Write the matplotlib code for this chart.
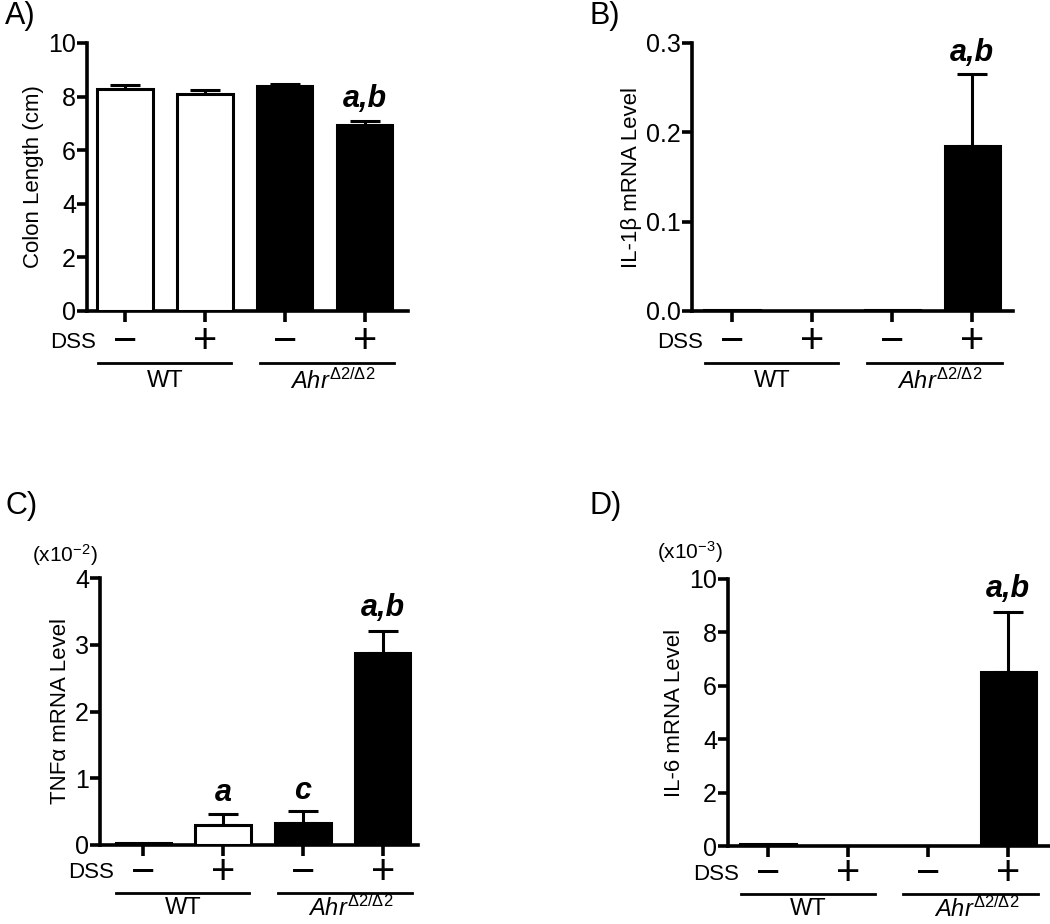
import numpy as np
import matplotlib.pyplot as plt

plt.rcParams['font.family'] = ['Liberation Sans', 'DejaVu Sans']
plt.rcParams['mathtext.fontset'] = 'custom'
plt.rcParams['mathtext.rm'] = 'Liberation Sans'
plt.rcParams['mathtext.it'] = 'Liberation Sans:italic'
plt.rcParams['mathtext.bf'] = 'Liberation Sans:bold'

dss = ['\u2212', '+', '\u2212', '+']
groups = ['WT', r'$\mathit{Ahr}^{\mathit{Δ2/Δ2}}$']
colors = ['white', 'white', 'black', 'black']

colon_len = [8.28, 8.10, 8.38, 6.93]
colon_err = [0.17, 0.15, 0.10, 0.16]
il1b = [0.0008, 0.0003, 0.0008, 0.185]
il1b_err = [0.0, 0.0, 0.0, 0.080]
tnfa = [0.03, 0.30, 0.33, 2.87]
tnfa_err = [0.0, 0.16, 0.18, 0.34]
il6 = [0.08, 0.0, 0.0, 6.52]
il6_err = [0.0, 0.0, 0.0, 2.24]

fig = plt.figure(figsize=(10.5, 9.24), dpi=100)
W, H = 1050, 924


def make_ax(left, right, top, bottom):
    return fig.add_axes([left / W, 1 - bottom / H, (right - left) / W, (bottom - top) / H])


def panel(ax, vals, errs, ylim, yticks, yticklabels, ylabel, notes, xl, xr, offs):
    x = np.arange(4)
    ax.bar(x, vals, width=0.69, color=colors, edgecolor='black', linewidth=2.2, zorder=3)
    for xi, v, e in zip(x, vals, errs):
        if e > 0:
            ax.errorbar(xi, v, yerr=[[0], [e]], fmt='none', ecolor='black',
                        elinewidth=2.2, capsize=11, capthick=2.2, zorder=2)
    ax.set_xlim(xl, xr)
    ax.set_ylim(*ylim)
    ax.set_yticks(yticks)
    ax.set_yticklabels(yticklabels)
    ax.set_xticks(x)
    ax.set_xticklabels([])
    for s in ['top', 'right']:
        ax.spines[s].set_visible(False)
    for s in ['left', 'bottom']:
        ax.spines[s].set_linewidth(2.6)
    ax.tick_params(axis='y', length=7, width=2.6, labelsize=18, pad=1)
    ax.tick_params(axis='x', length=8, width=2.6)
    ax.set_ylabel(ylabel, fontsize=16, labelpad=3)
    for xi, txt, yv in notes:
        ax.text(xi, yv, txt, ha='center', va='bottom', fontsize=22,
                fontweight='bold', fontstyle='italic')
    # offsets below the x axis, in pixels
    hpx = ax.get_position().height * H
    y_dss, y_line, y_grp = [-o / hpx for o in offs]
    tr = ax.get_xaxis_transform()
    ax.text(-0.36, y_dss, 'DSS', transform=tr, ha='right', va='center', fontsize=16)
    for xi, s in zip(x, dss):
        ax.text(xi, y_dss, s, transform=tr, ha='center', va='center', fontsize=30)
    ax.plot([-0.34, 1.33], [y_line, y_line], transform=tr, color='black', lw=2, clip_on=False)
    ax.plot([1.69, 3.37], [y_line, y_line], transform=tr, color='black', lw=2, clip_on=False)
    ax.text(0.5, y_grp, groups[0], transform=tr, ha='center', va='center', fontsize=17)
    ax.text(2.6, y_grp, groups[1], transform=tr, ha='center', va='center', fontsize=17)


axA = make_ax(87, 408, 43, 311)
panel(axA, colon_len, colon_err, (0, 10), [0, 2, 4, 6, 8, 10],
      ['0', '2', '4', '6', '8', '10'], 'Colon Length (cm)',
      [(3, 'a,b', 7.35)], -0.475, 3.54, (31, 52, 70))

axB = make_ax(692, 1013, 43, 311)
panel(axB, il1b, il1b_err, (0, 0.3), [0, 0.1, 0.2, 0.3],
      ['0.0', '0.1', '0.2', '0.3'], 'IL-1\u03b2 mRNA Level',
      [(3, 'a,b', 0.272)], -0.5, 3.51, (31, 52, 70))

axC = make_ax(100, 418, 578, 845)
panel(axC, tnfa, tnfa_err, (0, 4), [0, 1, 2, 3, 4],
      ['0', '1', '2', '3', '4'], 'TNF\u03b1 mRNA Level',
      [(1, 'a', 0.55), (2, 'c', 0.59), (3, 'a,b', 3.33)], -0.54, 3.44, (28, 48, 63))

axD = make_ax(728, 1050, 579, 846)
panel(axD, il6, il6_err, (0, 10), [0, 2, 4, 6, 8, 10],
      ['0', '2', '4', '6', '8', '10'], 'IL-6 mRNA Level',
      [(3, 'a,b', 9.05)], -0.5, 3.52, (28, 48, 63))

fig.text(5 / W, 1 - 16 / H, 'A)', fontsize=22, va='center', ha='left')
fig.text(590 / W, 1 - 16 / H, 'B)', fontsize=22, va='center', ha='left')
fig.text(5 / W, 1 - 506 / H, 'C)', fontsize=22, va='center', ha='left')
fig.text(590 / W, 1 - 506 / H, 'D)', fontsize=22, va='center', ha='left')
fig.text(65 / W, 1 - 555 / H, r'(x10$^{-2}$)', fontsize=15, va='center', ha='center')
fig.text(690 / W, 1 - 552 / H, r'(x10$^{-3}$)', fontsize=15, va='center', ha='center')

fig.savefig('out.png', dpi=100)
